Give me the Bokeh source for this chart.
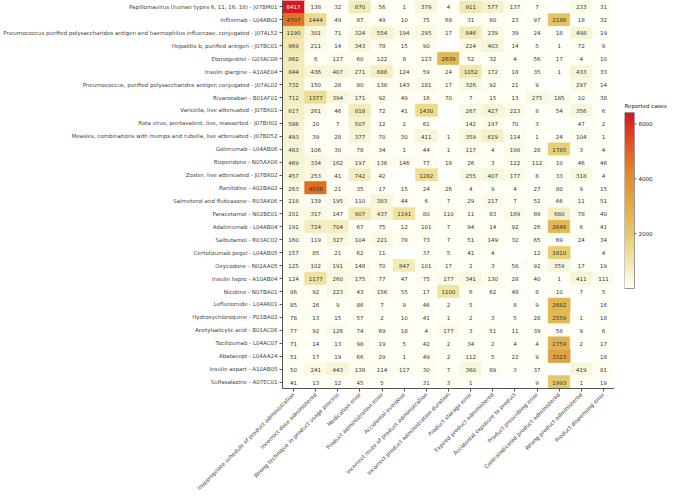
import math
import numpy as np
from bokeh.plotting import figure
from bokeh.layouts import row
from bokeh.models import ColumnDataSource, LinearColorMapper, Range1d
from bokeh.transform import transform
from bokeh.embed import file_html
from bokeh.resources import INLINE
from bokeh.core.properties import value

drugs = [
    "Papillomavirus (human types 6, 11, 16, 18) - J07BM01",
    "Infliximab - L04AB02",
    "Pneumococcus purified polysaccharides antigen and haemophilus influenzae, conjugated - J07AL52",
    "Hepatitis b, purified antigen - J07BC01",
    "Etonogestrel - G03AC08",
    "Insulin glargine - A10AE04",
    "Pneumococcus, purified polysaccharides antigen conjugated - J07AL02",
    "Rivaroxaban - B01AF01",
    "Varicella, live attenuated - J07BK01",
    "Rota virus, pentavalent, live, reassorted - J07BH02",
    "Measles, combinations with mumps and rubella, live attenuated - J07BD52",
    "Golimumab - L04AB06",
    "Risperidone - N05AX08",
    "Zoster, live attenuated - J07BK02",
    "Ranitidine - A02BA02",
    "Salmeterol and fluticasone - R03AK06",
    "Paracetamol - N02BE01",
    "Adalimumab - L04AB04",
    "Salbutamol - R03AC02",
    "Certolizumab pegol - L04AB05",
    "Oxycodone - N02AA05",
    "Insulin lispro - A10AB04",
    "Nicotine - N07BA01",
    "Leflunomide - L04AK01",
    "Hydroxychloroquine - P01BA02",
    "Acetylsalicylic acid - B01AC06",
    "Tocilizumab - L04AC07",
    "Abatacept - L04AA24",
    "Insulin aspart - A10AB05",
    "Sulfasalazine - A07EC01",
]

errors = [
    "Inappropriate schedule of product administration",
    "Incorrect dose administered",
    "Wrong technique in product usage process",
    "Medication error",
    "Product administration error",
    "Accidental overdose",
    "Incorrect route of product administration",
    "Incorrect product administration duration",
    "Product storage error",
    "Expired product administered",
    "Accidental exposure to product",
    "Product prescribing error",
    "Contraindicated product administered",
    "Wrong product administered",
    "Product dispensing error",
]

N = None
counts = [
    [6417, 138, 32, 870, 56, 1, 379, 4, 911, 577, 137, 7, N, 233, 31],
    [4707, 1444, 49, 87, 49, 10, 75, 69, 31, 80, 23, 97, 2186, 18, 32],
    [1190, 301, 71, 324, 554, 194, 295, 17, 846, 239, 39, 24, 18, 498, 19],
    [969, 211, 14, 343, 78, 15, 90, N, 224, 403, 14, 5, 1, 72, 9],
    [862, 6, 127, 60, 122, 8, 123, 2639, 52, 32, 4, 56, 17, 4, 10],
    [844, 436, 407, 271, 688, 124, 59, 24, 1052, 172, 18, 35, 1, 433, 33],
    [732, 150, 28, 80, 138, 143, 181, 17, 326, 92, 21, 9, N, 297, 14],
    [712, 1377, 394, 171, 92, 49, 16, 70, 7, 15, 13, 275, 185, 10, 38],
    [617, 261, 46, 818, 72, 41, 1430, N, 267, 427, 213, 8, 54, 356, 6],
    [586, 20, 7, 507, 12, 2, 61, N, 142, 197, 70, 3, N, 47, 2],
    [493, 39, 28, 377, 70, 30, 411, 1, 359, 619, 114, 1, 24, 104, 1],
    [483, 106, 30, 78, 34, 1, 44, 1, 117, 4, 198, 28, 1785, 3, 4],
    [469, 334, 162, 197, 136, 146, 77, 18, 26, 3, 122, 112, 10, 46, 46],
    [457, 253, 41, 742, 42, N, 1282, N, 255, 407, 177, 8, 33, 318, 4],
    [263, 4836, 21, 35, 17, 15, 24, 26, 4, 9, 4, 27, 80, 9, 15],
    [218, 139, 195, 110, 383, 44, 6, 7, 29, 217, 7, 52, 66, 11, 51],
    [201, 317, 147, 907, 437, 1191, 80, 110, 11, 83, 189, 89, 680, 78, 40],
    [191, 724, 704, 67, 75, 12, 101, 7, 94, 14, 92, 26, 2648, 6, 41],
    [160, 119, 327, 104, 221, 78, 73, 7, 51, 149, 32, 65, 69, 24, 34],
    [157, 85, 21, 62, 11, N, 37, 5, 41, 4, N, 12, 1810, N, 4],
    [125, 102, 191, 148, 70, 847, 101, 17, 2, 3, 56, 92, 359, 17, 19],
    [124, 1177, 260, 175, 77, 47, 75, 177, 341, 130, 28, 40, 1, 411, 111],
    [86, 92, 223, 43, 156, 55, 17, 1100, 6, 62, 48, 8, 10, 7, 5],
    [85, 26, 9, 86, 7, 9, 46, 2, 5, N, 8, 9, 2682, N, 16],
    [78, 13, 15, 57, 2, 10, 41, 1, 2, 3, 5, 28, 2559, 1, 18],
    [77, 92, 126, 74, 69, 18, 4, 177, 3, 51, 11, 39, 58, 9, 6],
    [71, 14, 13, 98, 19, 5, 42, 2, 34, 2, 4, 4, 2759, 2, 17],
    [51, 17, 19, 66, 29, 1, 49, 2, 112, 5, 22, 9, 3323, N, 18],
    [50, 241, 443, 138, 114, 117, 30, 7, 360, 89, 3, 37, N, 419, 81],
    [41, 13, 12, 45, 5, N, 31, 3, 1, N, N, 9, 1993, 1, 19],
]

colorbar_ticks = [2000, 4000, 6000]
colorbar_title = "Reported cases"

# palette: near white -> khaki -> orange -> red
anchors = [
    (0.00, (255, 255, 246)),
    (0.08, (245, 243, 208)),
    (0.20, (237, 224, 150)),
    (0.30, (230, 202, 108)),
    (0.42, (227, 180, 82)),
    (0.52, (227, 162, 64)),
    (0.65, (226, 138, 50)),
    (0.75, (224, 110, 36)),
    (0.88, (221, 64, 30)),
    (1.00, (214, 24, 32)),
]
palette = []
for k in range(256):
    t = k / 255
    for (t0, c0), (t1, c1) in zip(anchors[:-1], anchors[1:]):
        if t0 <= t <= t1:
            f = (t - t0) / (t1 - t0)
            c = [round(a + (b - a) * f) for a, b in zip(c0, c1)]
            palette.append("#%02x%02x%02x" % tuple(c))
            break

vmax = max(v for r in counts for v in r if v is not None)
mapper = LinearColorMapper(palette=palette, low=0, high=vmax)

xs, ys, vs, labels, tcols = [], [], [], [], []
for i, d in enumerate(drugs):
    for j, e in enumerate(errors):
        v = counts[i][j]
        if v is None:
            continue
        xs.append(e)
        ys.append(d)
        vs.append(v)
        labels.append(str(v))
        tcols.append("#ffffff" if v > 5500 else "#333333")

src = ColumnDataSource(dict(x=xs, y=ys, v=vs, label=labels, tc=tcols))

FRAME_H = 388
p = figure(
    x_range=errors,
    y_range=list(reversed(drugs)),
    frame_width=332,
    frame_height=FRAME_H,
    min_border_left=273,
    min_border_top=0,
    min_border_right=0,
    min_border_bottom=0,
    output_backend="svg",
    toolbar_location=None,
)

p.rect(x="x", y="y", width=1, height=1, source=src,
       fill_color=transform("v", mapper),
       line_color=transform("v", mapper), line_width=0.5)
p.text(x="x", y="y", text="label", source=src,
       text_align="center", text_baseline="middle",
       text_font_size="5.5px", text_color="tc",
       text_font=value("DejaVu Sans"))

p.grid.visible = False
p.outline_line_color = None
p.xaxis.major_label_orientation = math.pi / 4
for ax in (p.xaxis, p.yaxis):
    ax.major_label_text_font_size = "5.5px"
    ax.major_label_text_font = "DejaVu Sans"
    ax.major_label_text_color = "#444444"
    ax.axis_line_color = "#555555"
    ax.major_tick_line_color = "#555555"
    ax.major_tick_out = 3
    ax.major_tick_in = 0
    ax.major_label_standoff = 2

# colour bar: a small companion figure whose frame has the same height as the
# heatmap frame; the value axis is scaled so the bar spans 176 px, 112 px below the top
BAR_TOP, BAR_H = 112, 176
units_per_px = vmax / BAR_H
p2 = figure(
    frame_width=45, frame_height=FRAME_H,
    x_range=Range1d(0, 4.5),
    y_range=Range1d(-(FRAME_H - BAR_TOP - BAR_H) * units_per_px,
                    vmax + BAR_TOP * units_per_px),
    x_axis_location=None, y_axis_location=None,
    min_border_left=10, min_border_top=0,
    min_border_right=0, min_border_bottom=0,
    output_backend="svg",
    toolbar_location=None,
)
p2.grid.visible = False
p2.outline_line_color = None
bar_vals = np.linspace(0, vmax, 256).reshape(-1, 1)
p2.image(image=[bar_vals], x=0, y=0, dw=1, dh=vmax, color_mapper=mapper)
p2.quad(left=0, right=1, bottom=0, top=vmax, fill_color=None,
        line_color="#999999", line_width=1)
p2.segment(x0=[1] * len(colorbar_ticks), x1=[1.2] * len(colorbar_ticks),
           y0=colorbar_ticks, y1=colorbar_ticks, line_color="#555555", line_width=1)
p2.text(x=[1.4] * len(colorbar_ticks), y=colorbar_ticks,
        text=[str(t) for t in colorbar_ticks],
        text_baseline="middle", text_align="left",
        text_font_size="5.5px", text_color="#222222",
        text_font=value("DejaVu Sans"))
p2.text(x=[0], y=[vmax], text=[colorbar_title], y_offset=-4,
        text_baseline="bottom", text_align="left",
        text_font_size="5.5px", text_color="#222222",
        text_font=value("DejaVu Sans"))

layout = row(p, p2)
open("out.html", "w").write(file_html(layout, INLINE))
